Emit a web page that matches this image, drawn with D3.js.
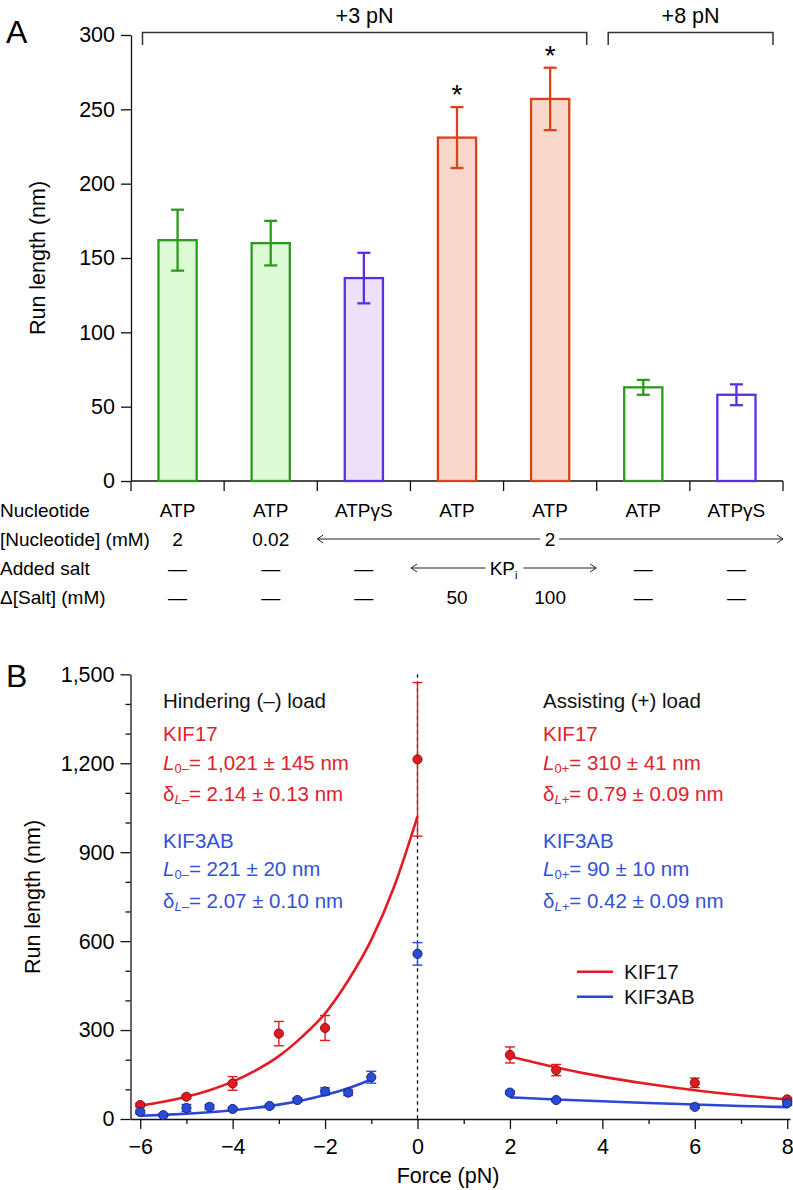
<!DOCTYPE html>
<html><head><meta charset="utf-8">
<script src="https://cdn.jsdelivr.net/npm/d3@7"></script>
<style>
html,body{margin:0;padding:0;background:#fff;}
svg{display:block;font-family:"Liberation Sans",Arial,Helvetica,sans-serif;}
</style></head>
<body>
<script>
// ---------- Panel A data ----------
const nucleotideA = ["ATP","ATP","ATPγS","ATP","ATP","ATP","ATPγS"];
const kindA = ["ATP","ATP","ATPγS","KPi","KPi","ATP","ATPγS"];
const forceA = ["+3 pN","+3 pN","+3 pN","+3 pN","+3 pN","+8 pN","+8 pN"];
const runLenA = [162,160,136.5,231,257,63,58];
const errA = [20.5,15,17,20.5,21,5,7];
const sigA = [false,false,false,true,true,false,false];
const concA = ["2","0.02"];
const concSpanLabel = "2";
const saltA = ["—","—","—","KP","KP","—","—"];
const deltaSaltA = ["—","—","—","50","100","—","—"];
const rowLabelsA = ["Nucleotide","[Nucleotide] (mM)","Added salt","Δ[Salt] (mM)"];
const yTicksA = [0,50,100,150,200,250,300];

// ---------- Panel B data ----------
const kif17F = [-6,-5,-4,-3,-2,0,2,3,6,8];
const kif17L = [47,75,120,288,307,1213,216,165,122,66];
const kif17E = [6,6,23,41,42,259,27,19,16,6];
const kif3F = [-6,-5.5,-5,-4.5,-4,-3.2,-2.6,-2,-1.5,-1,0,2,3,6,8];
const kif3L = [24,13,37,41,34,44,64,93,89,141,557,89,64,41,53];
const kif3E = [6,4,12,8,5,5,6,12,10,20,38,6,5,5,6];
// fit curves
const fitHindF = [-6,-5.5,-5,-4.5,-4,-3.5,-3,-2.5,-2,-1.5,-1,-0.5,0];
const fit17Hind = [45,58,75,97,126,164,212,277,356,467,604,786,1021];
const fitHind3F = [-6,-5.5,-5,-4.5,-4,-3.5,-3,-2.5,-2,-1.5,-1];
const fit3Hind = [10.7,13.8,17.7,22.8,29.3,37.8,48.6,62.6,80.6,103.7,133.5];
const fitAssF = [2,3,4,5,6,7,8];
const fit17Ass = [211,174,143,118,97,80,66];
const fit3Ass = [73,66,60,54,49,44,40];
const yTicksB = [0,300,600,900,1200,1500];
const yMinorB = [100,200,400,500,700,800,1000,1100,1300,1400];
const xTicksB = [-6,-4,-2,0,2,4,6,8];
const xMinorB = [-5,-3,-1,1,3,5,7];

const W = 793, H = 1190;
const svg = d3.select("body").append("svg").attr("width",W).attr("height",H);

const colA = {
  "ATP":   {stroke:"#2b9a1c", fill:"#ddfad6"},
  "ATPγS": {stroke:"#5a2ee2", fill:"#ece1f8"},
  "KPi":   {stroke:"#d8431b", fill:"#f6d7ca"}
};
const fsTick = 21.5, fsTitle = 21.5;

// ================= Panel A =================
const gA = svg.append("g");
const yA = d3.scaleLinear().domain([0,300]).range([481,35]);
const xA = d3.scaleBand().domain(d3.range(nucleotideA.length)).range([131,783]).padding(0);
const bw = xA.bandwidth();
const barW = bw*0.41;

gA.append("text").attr("x",6).attr("y",43).attr("font-size",32).text("A");

const axA = gA.append("g").attr("transform","translate(131,0)")
  .call(d3.axisLeft(yA).tickValues(yTicksA).tickSize(10).tickSizeOuter(0).tickPadding(6));
axA.selectAll("text").attr("font-size",fsTick).attr("font-family","Liberation Sans, Arial");
axA.selectAll("line,path").attr("stroke","#111").attr("stroke-width",1.3);

gA.append("line").attr("x1",131).attr("x2",783).attr("y1",yA(0)).attr("y2",yA(0))
  .attr("stroke","#111").attr("stroke-width",1.3);
const bounds = d3.range(nucleotideA.length+1).map(i => i<nucleotideA.length ? xA(i) : xA(i-1)+bw);
gA.selectAll(".bt").data(bounds).join("line")
  .attr("x1",d=>d).attr("x2",d=>d).attr("y1",yA(0)).attr("y2",yA(0)+10)
  .attr("stroke","#111").attr("stroke-width",1.3);

gA.append("text").attr("transform","translate(38,258) rotate(-90)")
  .attr("text-anchor","middle").attr("dominant-baseline","central").attr("font-size",fsTitle)
  .text("Run length (nm)");

const cx = i => xA(i)+bw/2;
gA.selectAll(".bar").data(runLenA).join("rect")
  .attr("x",(d,i)=>cx(i)-barW/2).attr("width",barW)
  .attr("y",d=>yA(d)).attr("height",d=>yA(0)-yA(d))
  .attr("fill",(d,i)=> forceA[i]==="+8 pN" ? "#fff" : colA[kindA[i]].fill)
  .attr("stroke",(d,i)=>colA[kindA[i]].stroke).attr("stroke-width",2.3);
const eg = gA.selectAll(".eb").data(runLenA).join("g");
eg.append("line").attr("x1",(d,i)=>cx(i)).attr("x2",(d,i)=>cx(i))
  .attr("y1",(d,i)=>yA(d+errA[i])).attr("y2",(d,i)=>yA(d-errA[i]))
  .attr("stroke",(d,i)=>colA[kindA[i]].stroke).attr("stroke-width",2.3);
[1,-1].forEach(s=>{
  eg.append("line").attr("x1",(d,i)=>cx(i)-6.5).attr("x2",(d,i)=>cx(i)+6.5)
    .attr("y1",(d,i)=>yA(d+s*errA[i])).attr("y2",(d,i)=>yA(d+s*errA[i]))
    .attr("stroke",(d,i)=>colA[kindA[i]].stroke).attr("stroke-width",2.3);
});
gA.selectAll(".ast").data(runLenA.map((d,i)=>({d,i})).filter(o=>sigA[o.i])).join("text")
  .attr("x",o=>cx(o.i)).attr("y",o=>yA(o.d+errA[o.i])-3).attr("text-anchor","middle")
  .attr("font-size",28).text("*");

const groups = Array.from(new Set(forceA));
groups.forEach(g=>{
  const idx = forceA.map((f,i)=>f===g?i:-1).filter(i=>i>=0);
  const x1 = xA(idx[0]) + 11.5, x2 = xA(idx[idx.length-1]) + bw - 10;
  gA.append("path").attr("d",`M${x1},45V32.5H${x2}V45`).attr("fill","none")
    .attr("stroke","#333").attr("stroke-width",1.5);
  gA.append("text").attr("x",(x1+x2)/2).attr("y",23).attr("text-anchor","middle")
    .attr("font-size",fsTick).text(g);
});

const rowY = [510,539,568,597];
const fsT = 19;
rowLabelsA.forEach((t,r)=>{
  gA.append("text").attr("x",0).attr("y",rowY[r]).attr("dominant-baseline","central")
    .attr("font-size",fsT).text(t);
});
nucleotideA.forEach((t,i)=>{
  gA.append("text").attr("x",cx(i)).attr("y",rowY[0]).attr("dominant-baseline","central")
    .attr("text-anchor","middle").attr("font-size",fsT).text(t);
});
concA.forEach((t,i)=>{
  gA.append("text").attr("x",cx(i)).attr("y",rowY[1]).attr("dominant-baseline","central")
    .attr("text-anchor","middle").attr("font-size",fsT).text(t);
});
function arrowSpan(xl, xr, y, label, gapL, gapR, sub){
  const mid = (xl+xr)/2;
  const tx = gA.append("text").attr("x",mid).attr("y",y).attr("dominant-baseline","central")
    .attr("text-anchor","middle").attr("font-size",fsT).text(label);
  if(sub){ tx.append("tspan").attr("font-size",11).attr("dy",7).text(sub); }
  gA.append("line").attr("x1",xl).attr("x2",mid-gapL).attr("y1",y).attr("y2",y).attr("stroke","#222").attr("stroke-width",1);
  gA.append("line").attr("x1",mid+gapR).attr("x2",xr).attr("y1",y).attr("y2",y).attr("stroke","#222").attr("stroke-width",1);
  gA.append("path").attr("d",`M${xl+6},${y-4}L${xl},${y}L${xl+6},${y+4}`).attr("fill","none").attr("stroke","#222").attr("stroke-width",1);
  gA.append("path").attr("d",`M${xr-6},${y-4}L${xr},${y}L${xr-6},${y+4}`).attr("fill","none").attr("stroke","#222").attr("stroke-width",1);
}
arrowSpan(xA(2), xA(6)+bw, rowY[1], concSpanLabel, 10, 9, null);
const kpIdx = saltA.map((s,i)=>s==="KP"?i:-1).filter(i=>i>=0);
saltA.forEach((t,i)=>{
  if(t!=="KP") gA.append("text").attr("x",cx(i)).attr("y",rowY[2]).attr("dominant-baseline","central")
    .attr("text-anchor","middle").attr("font-size",fsT).text(t);
});
arrowSpan(cx(kpIdx[0])-46, cx(kpIdx[kpIdx.length-1])+46, rowY[2], "KP", 18, 20, "i");
deltaSaltA.forEach((t,i)=>{
  gA.append("text").attr("x",cx(i)).attr("y",rowY[3]).attr("dominant-baseline","central")
    .attr("text-anchor","middle").attr("font-size",fsT).text(t);
});

// ================= Panel B =================
const gB = svg.append("g");
const xB = d3.scaleLinear().domain([-6.21,8.06]).range([130.5,790]);
const yB = d3.scaleLinear().domain([0,1500]).range([1119,674.3]);
const RED = "#e31b23", BLUE = "#2b47d3";
const REDT = "#e0222a", BLUET = "#3352d6";

gB.append("text").attr("x",6).attr("y",687).attr("font-size",32).text("B");

const ayB = gB.append("g").attr("transform","translate(130.5,0)")
  .call(d3.axisLeft(yB).tickValues(yTicksB).tickFormat(d3.format(",")).tickSize(10).tickSizeOuter(0).tickPadding(6));
ayB.selectAll("text").attr("font-size",fsTick);
ayB.selectAll("line,path").attr("stroke","#111").attr("stroke-width",1.3);
gB.append("g").attr("transform","translate(130.5,0)")
  .call(d3.axisLeft(yB).tickValues(yMinorB).tickFormat("").tickSize(5).tickSizeOuter(0))
  .call(g=>g.select(".domain").remove())
  .selectAll("line").attr("stroke","#111").attr("stroke-width",1.3);

const axB = gB.append("g").attr("transform","translate(0,1119)")
  .call(d3.axisBottom(xB).tickValues(xTicksB).tickSize(10).tickSizeOuter(0).tickPadding(10));
axB.selectAll("text").attr("font-size",fsTick);
axB.selectAll("line,path").attr("stroke","#111").attr("stroke-width",1.3);
gB.append("g").attr("transform","translate(0,1119)")
  .call(d3.axisBottom(xB).tickValues(xMinorB).tickFormat("").tickSize(5).tickSizeOuter(0))
  .call(g=>g.select(".domain").remove())
  .selectAll("line").attr("stroke","#111").attr("stroke-width",1.3);

gB.append("text").attr("x",448).attr("y",1183).attr("text-anchor","middle").attr("font-size",fsTitle).text("Force (pN)");
gB.append("text").attr("transform","translate(33,897) rotate(-90)")
  .attr("text-anchor","middle").attr("dominant-baseline","central").attr("font-size",fsTitle)
  .text("Run length (nm)");

gB.append("line").attr("x1",xB(0)).attr("x2",xB(0)).attr("y1",yB(1500)).attr("y2",yB(0))
  .attr("stroke","#111").attr("stroke-width",1.3).attr("stroke-dasharray","3.5,3.5");

const line = d3.line().x(d=>xB(d[0])).y(d=>yB(d[1])).curve(d3.curveMonotoneX);
function curve(F,L,c){
  gB.append("path").attr("d",line(F.map((f,i)=>[f,L[i]]))).attr("fill","none")
    .attr("stroke",c).attr("stroke-width",2.6);
}
curve(fitHindF,fit17Hind,RED);
curve(fitHind3F,fit3Hind,BLUE);
curve(fitAssF,fit17Ass,RED);
curve(fitAssF,fit3Ass,BLUE);

function points(F,L,E,c,dark){
  const g = gB.append("g");
  F.forEach((f,i)=>{
    const x = xB(f);
    g.append("line").attr("x1",x).attr("x2",x).attr("y1",yB(L[i]+E[i])).attr("y2",yB(L[i]-E[i]))
      .attr("stroke",c).attr("stroke-width",1.4);
    [1,-1].forEach(s=>g.append("line").attr("x1",x-5).attr("x2",x+5)
      .attr("y1",yB(L[i]+s*E[i])).attr("y2",yB(L[i]+s*E[i])).attr("stroke",c).attr("stroke-width",1.4));
  });
  g.selectAll("circle").data(L).join("circle")
    .attr("cx",(d,i)=>xB(F[i])).attr("cy",d=>yB(d)).attr("r",4.6)
    .attr("fill",c).attr("stroke",dark).attr("stroke-width",0.9);
}
points(kif17F,kif17L,kif17E,"#e01a1f","#7a0d0d");
points(kif3F,kif3L,kif3E,"#2a4ad8","#14227a");

const fsB = 20.5;
function plain(x,y,txt,col){
  gB.append("text").attr("x",x).attr("y",y).attr("dominant-baseline","central")
    .attr("font-size",fsB).attr("fill",col).text(txt);
}
function paramL(x,y,sub,rest,col){
  const t = gB.append("text").attr("x",x).attr("y",y).attr("dominant-baseline","central")
    .attr("font-size",fsB).attr("fill",col);
  t.append("tspan").attr("font-style","italic").text("L");
  t.append("tspan").attr("font-size",13).attr("dy",6).text(sub);
  t.append("tspan").attr("dy",-6).text(rest);
}
function paramD(x,y,sub,rest,col){
  const t = gB.append("text").attr("x",x).attr("y",y).attr("dominant-baseline","central")
    .attr("font-size",fsB).attr("fill",col);
  t.append("tspan").text("δ");
  t.append("tspan").attr("font-size",13).attr("dy",6).attr("font-style","italic").text(sub);
  t.append("tspan").attr("dy",-6).text(rest);
}
const rowsB = [700,733,762,793,840,868,900];
plain(163,rowsB[0],"Hindering (–) load","#111");
plain(163,rowsB[1],"KIF17",REDT);
paramL(163,rowsB[2],"0–","= 1,021 ± 145 nm",REDT);
paramD(163,rowsB[3],"L–","= 2.14 ± 0.13 nm",REDT);
plain(163,rowsB[4],"KIF3AB",BLUET);
paramL(163,rowsB[5],"0–","= 221 ± 20 nm",BLUET);
paramD(163,rowsB[6],"L–","= 2.07 ± 0.10 nm",BLUET);

plain(543,rowsB[0],"Assisting (+) load","#111");
plain(543,rowsB[1],"KIF17",REDT);
paramL(543,rowsB[2],"0+","= 310 ± 41 nm",REDT);
paramD(543,rowsB[3],"L+","= 0.79 ± 0.09 nm",REDT);
plain(543,rowsB[4],"KIF3AB",BLUET);
paramL(543,rowsB[5],"0+","= 90 ± 10 nm",BLUET);
paramD(543,rowsB[6],"L+","= 0.42 ± 0.09 nm",BLUET);

const legend = [["KIF17",RED],["KIF3AB",BLUE]];
legend.forEach((l,i)=>{
  const y = 971.7 + i*25;
  gB.append("line").attr("x1",577).attr("x2",613).attr("y1",y).attr("y2",y).attr("stroke",l[1]).attr("stroke-width",2.6);
  gB.append("text").attr("x",624).attr("y",y).attr("dominant-baseline","central").attr("font-size",20.5).attr("fill","#111").text(l[0]);
});
</script>
</body></html>
